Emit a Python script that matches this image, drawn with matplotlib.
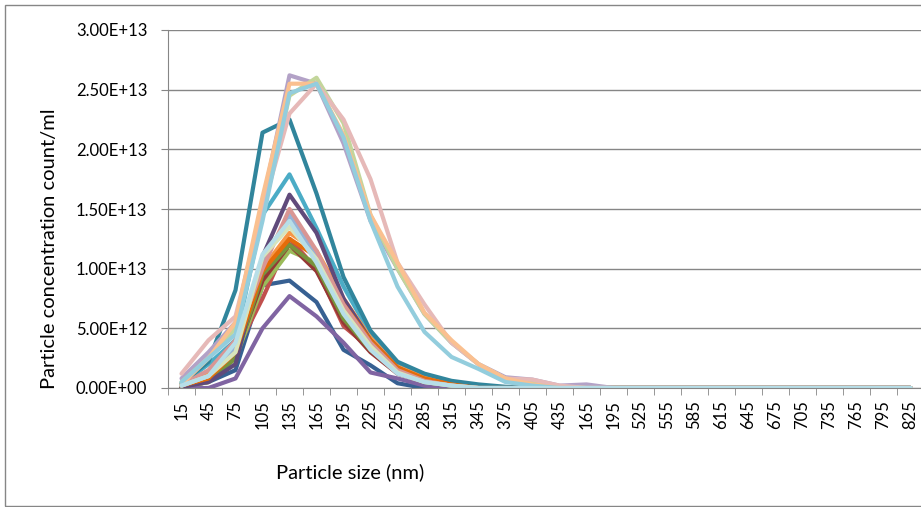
import numpy as np
import matplotlib
matplotlib.use("Agg")
import matplotlib.pyplot as plt
from matplotlib.ticker import FixedLocator, FuncFormatter
from matplotlib.patches import Rectangle

plt.rcParams['font.family'] = ['Lato', 'DejaVu Sans']

# category labels as they appear on the chart
size_labels = ['15', '45', '75', '105', '135', '165', '195', '225', '255', '285',
               '315', '345', '375', '405', '435', '165', '195', '525', '555', '585',
               '615', '645', '675', '705', '735', '765', '795', '825']

# concentrations in units of 1E13 count/ml (first values, rest are zero)
s_teal = [0.04, 0.22, 0.82, 2.14, 2.25, 1.63, 0.93, 0.48, 0.22, 0.12, 0.06, 0.03, 0.01]
s_lavender = [0.08, 0.30, 0.55, 1.55, 2.62, 2.55, 2.05, 1.40, 1.00, 0.62, 0.38, 0.20, 0.09, 0.07, 0.02, 0.03]
s_ltgreen = [0.05, 0.25, 0.50, 1.45, 2.45, 2.60, 2.22, 1.45, 1.00, 0.62, 0.38, 0.20, 0.08, 0.04, 0.01]
s_ltorange = [0.03, 0.25, 0.55, 1.60, 2.55, 2.55, 2.12, 1.45, 1.05, 0.63, 0.40, 0.20, 0.08, 0.03]
s_pink = [0.12, 0.40, 0.60, 1.50, 2.30, 2.55, 2.25, 1.75, 1.05, 0.70, 0.38, 0.20, 0.08, 0.07, 0.02]
s_ltblue = [0.05, 0.25, 0.45, 1.40, 2.47, 2.55, 2.10, 1.40, 0.85, 0.47, 0.26, 0.16, 0.05, 0.02]
s_aqua = [0.03, 0.20, 0.40, 1.45, 1.79, 1.34, 0.85, 0.45, 0.20, 0.10, 0.05, 0.02]
s_dkpurple = [0.01, 0.05, 0.20, 1.10, 1.62, 1.30, 0.75, 0.40, 0.17, 0.07, 0.03, 0.01]
s_blue = [0.01, 0.05, 0.15, 0.86, 0.90, 0.72, 0.32, 0.19, 0.04]
s_purple = [0.00, 0.00, 0.08, 0.50, 0.77, 0.60, 0.38, 0.13, 0.08, 0.02]
s_green = [0.01, 0.05, 0.25, 0.85, 1.15, 1.05, 0.60, 0.35, 0.15, 0.06, 0.02]
s_red = [0.01, 0.05, 0.30, 0.75, 1.25, 1.00, 0.52, 0.33, 0.14, 0.06, 0.02]
s_orange = [0.02, 0.12, 0.35, 1.00, 1.30, 1.15, 0.75, 0.42, 0.18, 0.09, 0.04, 0.02]
s_rose = [0.02, 0.15, 0.40, 1.00, 1.50, 1.15, 0.70, 0.38, 0.15, 0.06, 0.02]
s_periwinkle = [0.02, 0.10, 0.35, 1.05, 1.45, 1.10, 0.68, 0.36, 0.14, 0.05, 0.02]
s_sage = [0.02, 0.10, 0.30, 1.10, 1.35, 1.08, 0.65, 0.35, 0.13, 0.05, 0.02]
s_ltcyan = [0.02, 0.10, 0.38, 1.12, 1.40, 1.05, 0.62, 0.32, 0.12, 0.05, 0.02]
s_brown = [0.01, 0.06, 0.28, 0.90, 1.20, 0.98, 0.55, 0.30, 0.12, 0.05, 0.02]
s_olive = [0.01, 0.06, 0.25, 0.95, 1.20, 1.02, 0.58, 0.32, 0.13, 0.05, 0.02]
s_dkorange = [0.02, 0.08, 0.30, 0.98, 1.25, 1.10, 0.70, 0.40, 0.17, 0.08, 0.03]

series = [
    (s_blue, '#376092'), (s_red, '#C0504D'), (s_green, '#9BBB59'),
    (s_purple, '#8064A2'), (s_aqua, '#4BACC6'), (s_orange, '#F79646'),
    (s_brown, '#953735'), (s_olive, '#77933C'), (s_dkpurple, '#604A7B'),
    (s_teal, '#31859C'), (s_dkorange, '#E46C0A'), (s_periwinkle, '#95B3D7'),
    (s_rose, '#D99694'), (s_lavender, '#B3A2C7'), (s_ltgreen, '#C3D69B'),
    (s_pink, '#E6B9B8'), (s_ltorange, '#FAC090'), (s_sage, '#D7E4BD'),
    (s_ltblue, '#93CDDD'), (s_ltcyan, '#B7DEE8'),
]

n = len(size_labels)
x = np.arange(n)

fig = plt.figure(figsize=(9.21, 5.07), dpi=100)
ax = fig.add_axes([168 / 921, 1 - 388 / 507, (28 * 27) / 921, (388 - 30) / 507])

for vals, col in series:
    y = np.zeros(n)
    y[:len(vals)] = vals
    ax.plot(x, y * 1e13, color=col, lw=3.0, solid_joinstyle='round', solid_capstyle='round')

ax.set_xlim(-0.5, n - 0.5)
ax.set_ylim(0, 3e13)
ax.set_yticks(np.arange(0, 3.01e13, 5e12))
ax.yaxis.set_major_formatter(FuncFormatter(lambda v, p: ('%.2E' % v)))
ax.grid(axis='y', color='#868686', lw=1.0)
ax.set_axisbelow(True)

ax.set_xticks(x)
ax.set_xticklabels(size_labels, rotation=90, fontsize=12)
ax.xaxis.set_minor_locator(FixedLocator(np.arange(-0.5, n, 1.0)))
ax.tick_params(axis='x', which='major', length=0, pad=9)
ax.tick_params(axis='x', which='minor', length=5, color='#868686')
ax.tick_params(axis='y', length=5, color='#868686', labelsize=12, pad=10)

for side in ['top', 'right']:
    ax.spines[side].set_visible(False)
ax.spines['left'].set_color('#868686')
ax.spines['bottom'].set_color('#868686')

fig.text(50 / 921, 1 - 249 / 507, 'Particle concentration count/ml', rotation=90,
         ha='center', va='center', fontsize=14.5)
fig.text(350 / 921, 1 - 472 / 507, 'Particle size (nm)', ha='center', va='center', fontsize=14.5)

fig.patches.append(Rectangle((5 / 921, 1 / 507), 1.0, 1 - 6 / 507, transform=fig.transFigure,
                             fill=False, edgecolor='#868686', lw=1.0))

fig.savefig('out.png', dpi=100)
